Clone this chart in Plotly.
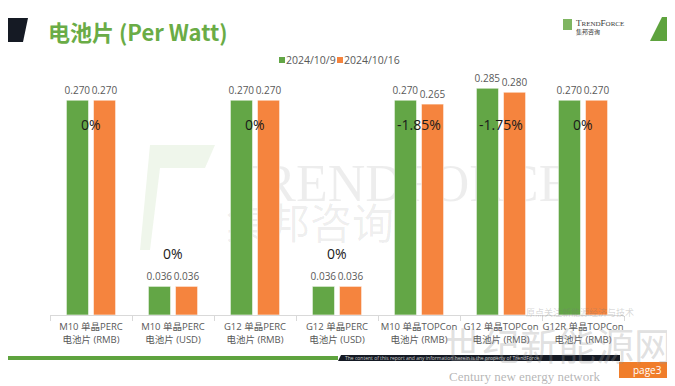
import plotly.graph_objects as go

categories = ["M10 单晶PERC<br>电池片 (RMB)", "M10 单晶PERC<br>电池片 (USD)", "G12 单晶PERC<br>电池片 (RMB)",
              "G12 单晶PERC<br>电池片 (USD)", "M10 单晶TOPCon<br>电池片 (RMB)", "G12 单晶TOPCon<br>电池片 (RMB)",
              "G12R 单晶TOPCon<br>电池片 (RMB)"]
series_names = ["2024/10/9", "2024/10/16"]
values_1009 = [0.270, 0.036, 0.270, 0.036, 0.270, 0.285, 0.270]
values_1016 = [0.270, 0.036, 0.270, 0.036, 0.265, 0.280, 0.270]

GREEN = "#63a646"
ORANGE = "#f5843e"
FONT = "Open Sans, Noto Sans CJK SC, sans-serif"
CJK = "Noto Sans CJK SC, sans-serif"

OFF = 8  # page body margin
W, H = 675 - OFF, 386 - OFF
L, R, T, B = 50, 624, 80, 315  # plot area in screen pixels


def px(x):
    return (x - L) / (R - L)


def py(y):
    return (B - y) / (B - T)


fig = go.Figure()
for name, vals, col in [(series_names[0], values_1009, GREEN), (series_names[1], values_1016, ORANGE)]:
    fig.add_trace(go.Bar(
        x=categories, y=vals, name=name,
        marker=dict(color=col, line=dict(color="rgba(255,255,255,0.6)", width=1)),
        text=vals, texttemplate="%{y:.3f}", textposition="outside", constraintext="none",
        textfont=dict(family=FONT, size=10, color="#595959"),
        cliponaxis=False, showlegend=False,
    ))

annotations = []
for c, a, b in zip(categories, values_1009, values_1016):
    pct = (b - a) / a * 100
    txt = "0%" if abs(pct) < 1e-9 else f"{pct:.2f}%"
    ymax = max(a, b)
    yy = 0.239 if ymax > 0.1 else ymax + 0.041
    annotations.append(dict(x=c, y=yy, xref="x", yref="y", text=txt, showarrow=False,
                            font=dict(family=FONT, size=14, color="#1a1a1a")))

# manual legend
legend_shapes = []
leg_x = [279, 337]
for name, col, lx in zip(series_names, [GREEN, ORANGE], leg_x):
    legend_shapes.append(dict(type="rect", xref="paper", yref="paper", x0=px(lx), x1=px(lx + 6),
                              y0=py(63), y1=py(57), fillcolor=col, line=dict(width=0)))
    annotations.append(dict(x=px(lx + 5), y=py(60), xref="paper", yref="paper", xanchor="left",
                            yanchor="middle", text=name, showarrow=False,
                            font=dict(family=FONT, size=10.5, color="#595959")))

annotations.append(dict(x=px(46), y=py(31), xref="paper", yref="paper", xanchor="left", yanchor="middle",
                        text="<b>电池片 (Per Watt)</b>", showarrow=False,
                        font=dict(family=CJK, size=22, color="#6aac46")))
annotations.append(dict(x=px(574), y=py(23), xref="paper", yref="paper", xanchor="left", yanchor="middle",
                        text="T<span style='font-size:7px'>REND</span>F<span style='font-size:7px'>ORCE</span>",
                        showarrow=False, font=dict(family="Liberation Serif, serif", size=9, color="#3a3a3a")))
annotations.append(dict(x=px(574), y=py(32), xref="paper", yref="paper", xanchor="left", yanchor="middle",
                        text="集邦咨询", showarrow=False, font=dict(family=CJK, size=6, color="#3a3a3a")))
annotations.append(dict(x=px(647), y=py(370), xref="paper", yref="paper", xanchor="center", yanchor="middle",
                        text="page3", showarrow=False, font=dict(family=FONT, size=10, color="white")))
annotations.append(dict(x=px(343), y=py(358), xref="paper", yref="paper", xanchor="left", yanchor="middle",
                        text="The content of this report and any information herein is the property of TrendForce",
                        showarrow=False, font=dict(family=FONT, size=5, color="#cccccc")))
annotations.append(dict(x=px(558), y=py(343), xref="paper", yref="paper", xanchor="center", yanchor="middle",
                        text="世纪新能源网", showarrow=False,
                        font=dict(family=CJK, size=38, color="rgba(150,150,150,0.3)")))
annotations.append(dict(x=px(525), y=py(376), xref="paper", yref="paper", xanchor="center", yanchor="middle",
                        text="Century new energy network", showarrow=False,
                        font=dict(family="Liberation Serif, serif", size=13, color="rgba(120,120,120,0.55)")))
annotations.append(dict(x=px(580), y=py(312), xref="paper", yref="paper", xanchor="center", yanchor="middle",
                        text="原点关注新能源经济与技术", showarrow=False,
                        font=dict(family=CJK, size=9, color="rgba(120,120,120,0.3)")))

shapes = [
    dict(type="path", xref="paper", yref="paper",
         path=f"M {px(8)},{py(18)} L {px(28)},{py(18)} L {px(23)},{py(42)} L {px(8)},{py(42)} Z",
         fillcolor="#151a24", line=dict(width=0)),
    dict(type="path", xref="paper", yref="paper",
         path=f"M {px(662)},{py(17)} L {px(676)},{py(17)} L {px(676)},{py(41)} L {px(650)},{py(41)} Z",
         fillcolor="#5ea33e", line=dict(width=0)),
    dict(type="rect", xref="paper", yref="paper", x0=px(563), x1=px(572), y0=py(30), y1=py(19),
         fillcolor="#7fb561", line=dict(width=0)),
    dict(type="rect", xref="paper", yref="paper", x0=px(0), x1=px(338), y0=py(360), y1=py(356),
         fillcolor="#5ea33e", line=dict(width=0)),
    dict(type="path", xref="paper", yref="paper",
         path=f"M {px(341)},{py(355)} L {px(620)},{py(355)} L {px(620)},{py(361)} L {px(338)},{py(361)} Z",
         fillcolor="#151a24", line=dict(width=0)),
    dict(type="rect", xref="paper", yref="paper", x0=px(619), x1=px(676), y0=py(378), y1=py(362),
         fillcolor="#f07d2a", line=dict(width=0)),
    dict(type="path", xref="paper", yref="paper", layer="below",
         path=f"M {px(150)},{py(145)} L {px(215)},{py(145)} L {px(205)},{py(168)} L {px(160)},{py(168)} L {px(150)},{py(250)} L {px(140)},{py(250)} Z",
         fillcolor="rgba(120,180,90,0.12)", line=dict(width=0)),
    dict(type="rect", xref="paper", yref="paper", layer="below",
         x0=px(215), x1=px(585), y0=py(205), y1=py(150), line=dict(width=0), fillcolor="rgba(0,0,0,0)",
         label=dict(text="TRENDFORCE", font=dict(family="Liberation Serif, serif", size=52,
                                                   color="rgba(0,0,0,0.07)"), textposition="middle center")),
    dict(type="rect", xref="paper", yref="paper", layer="below",
         x0=px(220), x1=px(400), y0=py(250), y1=py(205), line=dict(width=0), fillcolor="rgba(0,0,0,0)",
         label=dict(text="集邦咨询", font=dict(family=CJK, size=42, color="rgba(0,0,0,0.07)"),
                    textposition="middle center")),
] + legend_shapes

fig.update_layout(
    width=W, height=H,
    margin=dict(l=L - OFF, r=675 - R, t=T - OFF, b=386 - B, autoexpand=False),
    paper_bgcolor="white", plot_bgcolor="white",
    barmode="group", bargap=0.34, bargroupgap=0.18,
    showlegend=False,
    xaxis=dict(showline=True, linecolor="#d9d9d9", linewidth=1, ticks="outside", tickson="boundaries",
               ticklen=5, tickcolor="#d9d9d9", showgrid=False, tickangle=0, automargin=False,
               ticklabelstandoff=3,
               tickfont=dict(family=FONT, size=9.5, color="#595959")),
    yaxis=dict(range=[0, 0.2953], visible=False, showgrid=False, zeroline=False),
    annotations=annotations, shapes=shapes,
    font=dict(family=FONT),
)

fig.write_html("out.html")
